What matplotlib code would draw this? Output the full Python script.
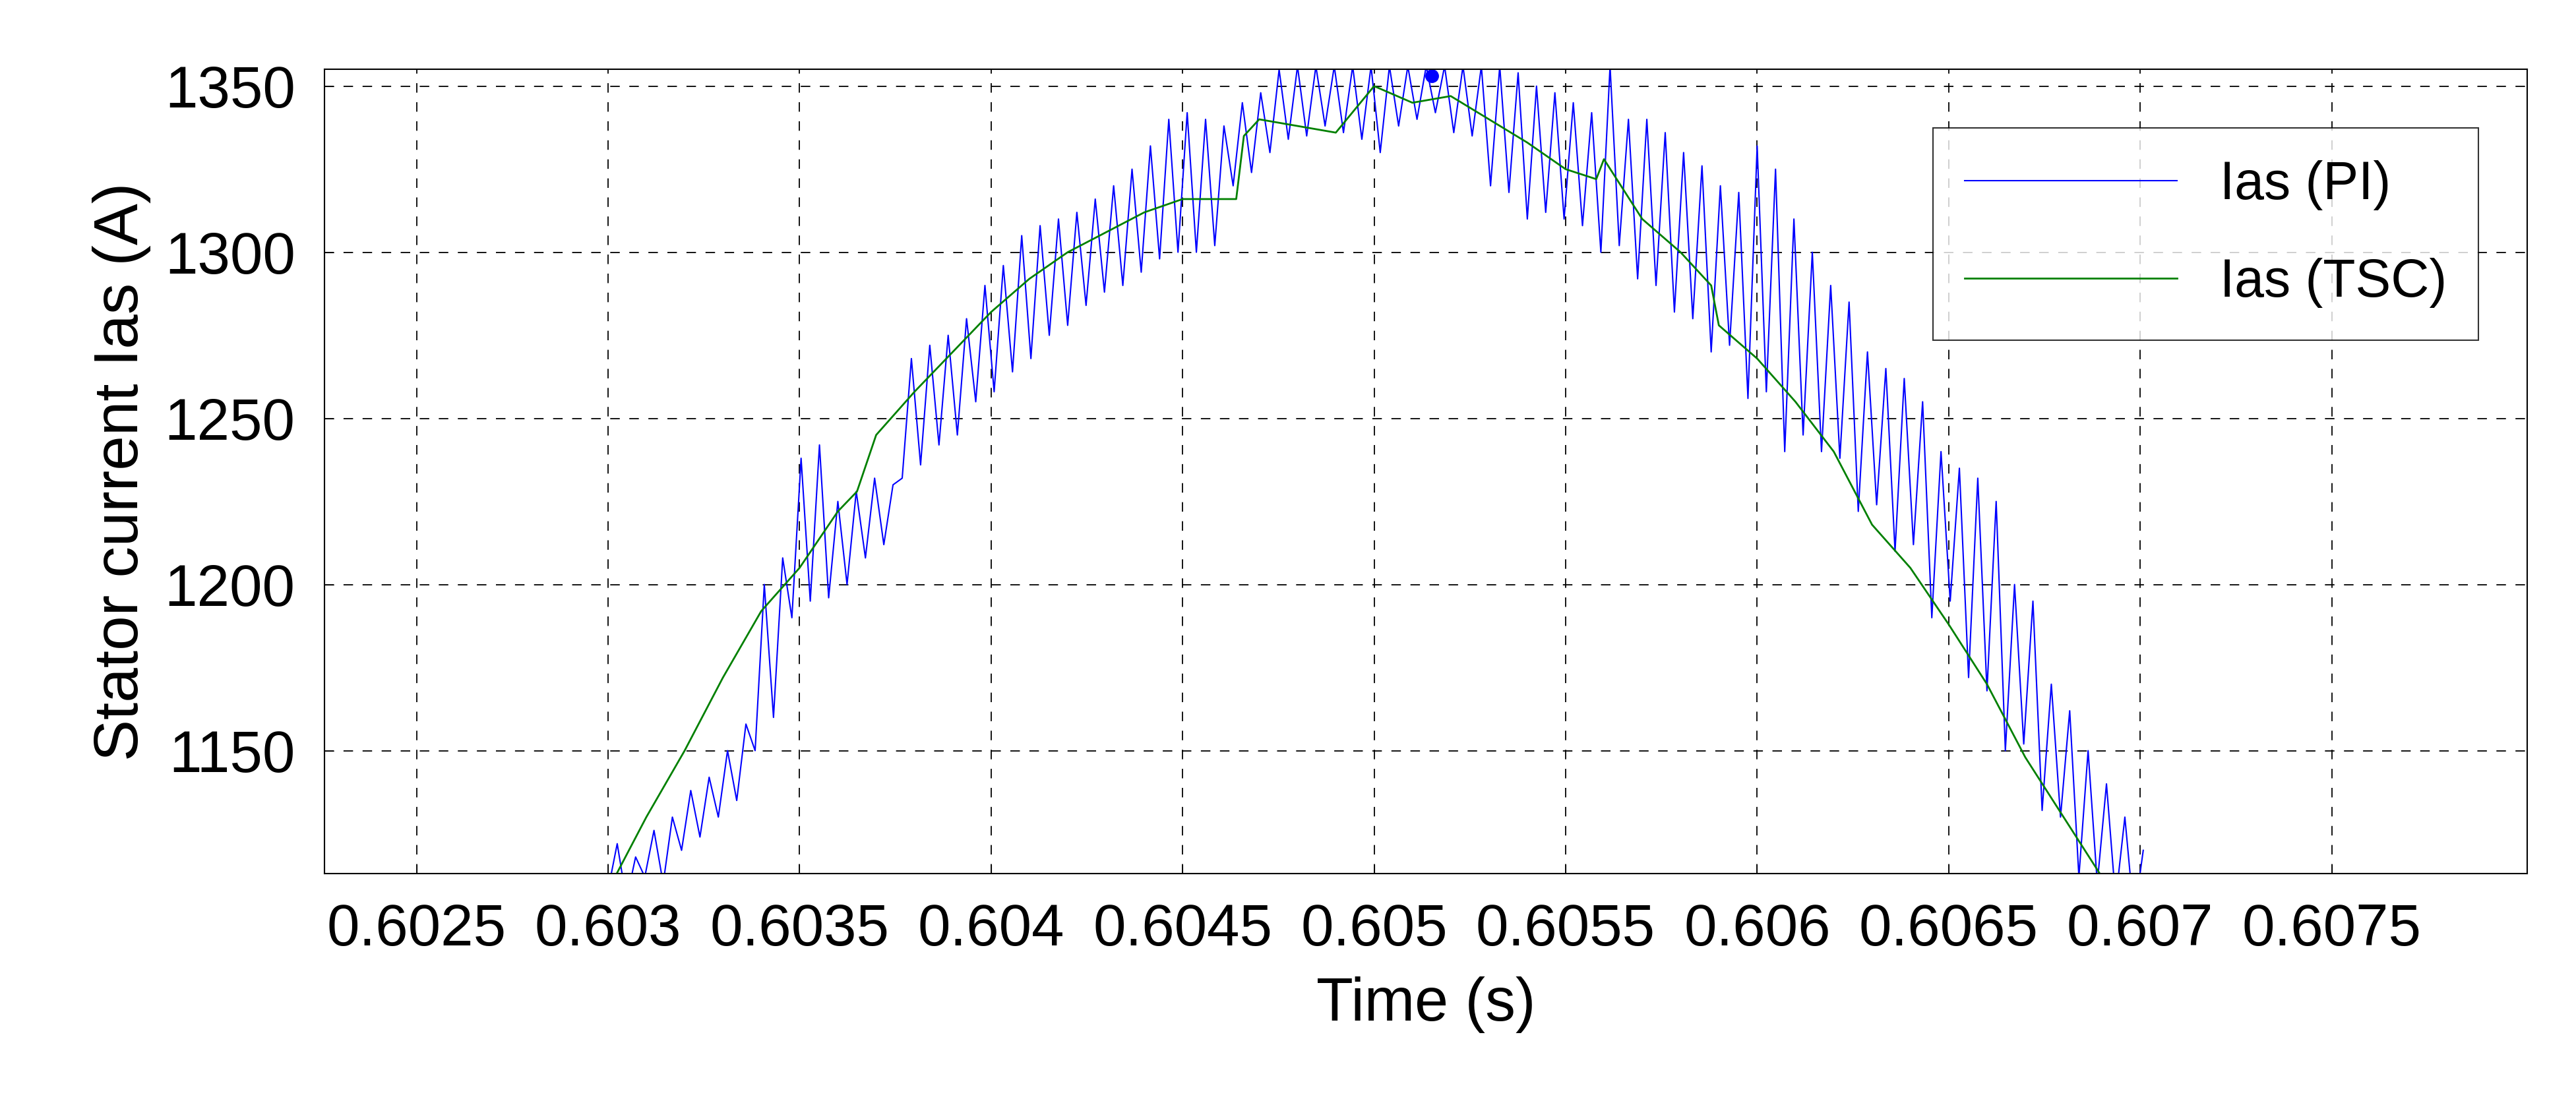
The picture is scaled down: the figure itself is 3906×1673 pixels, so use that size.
import numpy as np
import matplotlib
matplotlib.use("Agg")
import matplotlib.pyplot as plt

plt.rcParams['font.family'] = ['Liberation Sans', 'DejaVu Sans']

# PI current: sampled every 24 us from 0.60300 s (low/high alternating ripple)
pi_t0 = 0.60300
pi_dt = 0.000024
pi_vals = [
 1108,1122,1105,1118,  1112,1126,1110,1130,  1120,1138,1124,1142,  1130,1150,1135,1158,
 1150,1200,1160,1208,  1190,1238,1195,1242,  1196,1225,1200,1228,  1208,1232,1212,1230,
 1232,1268,1236,1272,  1242,1275,1245,1280,  1255,1290,1258,1296,  1264,1305,1268,1308,
 1275,1310,1278,1312,  1284,1316,1288,1320,  1290,1325,1294,1332,  1298,1340,1300,1342,
 1300,1340,1302,1338,  1320,1345,1324,1348,  1330,1355,1334,1356,  1335,1356,1338,1356,
 1336,1356,1334,1356,  1330,1356,1338,1356,  1340,1356,1342,1356,  1336,1356,1335,1356,
 1320,1356,1318,1354,  1310,1350,1312,1348,  1310,1345,1308,1342,  1300,1356,1302,1340,
 1292,1340,1290,1336,  1282,1330,1280,1326,  1270,1320,1272,1318,  1256,1332,1258,1325,
 1240,1310,1245,1300,  1240,1290,1238,1285,  1222,1270,1224,1265,  1210,1262,1212,1255,
 1190,1240,1195,1235,  1172,1232,1168,1225,  1150,1200,1152,1195,  1132,1170,1130,1162,
 1112,1150,1110,1140,  1105,1130,1100,1120,
]
pi_time = pi_t0 + pi_dt * np.arange(len(pi_vals))

# TSC current
tsc_time = [0.60300,0.60310,0.60320,0.60330,0.60340,0.60350,0.60360,0.60365,0.60370,0.60380,
            0.60390,0.60400,0.60410,0.60420,0.60430,0.60440,0.60450,0.60464,0.60466,0.60470,
            0.60480,0.60490,0.60500,0.60510,0.60520,0.60530,0.60540,0.60550,0.60558,0.60560,
            0.60570,0.60580,0.60588,0.60590,0.60600,0.60610,0.60620,0.60630,0.60640,0.60650,
            0.60660,0.60670,0.60680,0.60690,0.60700]
tsc_vals = [1108,1130,1150,1172,1192,1205,1222,1228,1245,1258,
            1270,1282,1292,1300,1306,1312,1316,1316,1335,1340,
            1338,1336,1350,1345,1347,1340,1333,1325,1322,1328,
            1310,1300,1290,1278,1268,1255,1240,1218,1205,1188,
            1170,1148,1130,1112,1100]

marker_t = [0.60515]
marker_v = [1353]

xticks = [0.6025,0.603,0.6035,0.604,0.6045,0.605,0.6055,0.606,0.6065,0.607,0.6075]
xlabels = ['0.6025','0.603','0.6035','0.604','0.6045','0.605','0.6055','0.606','0.6065','0.607','0.6075']
yticks = [1150,1200,1250,1300,1350]

fig = plt.figure(figsize=(39.06,16.73), dpi=100)
ax = fig.add_axes([0.126,0.208,0.855,0.729])
ax.plot(pi_time, pi_vals, color='blue', lw=1.5, label='Ias (PI)')
ax.plot(tsc_time, tsc_vals, color='green', lw=2.0, label='Ias (TSC)')
ax.plot(marker_t, marker_v, 'o', color='blue', ms=14)
ax.set_xlim(0.60226,0.60801)
ax.set_ylim(1113,1355)
ax.set_xticks(xticks)
ax.set_xticklabels(xlabels)
ax.set_yticks(yticks)
ax.grid(True, color='black', linestyle=(0,(8,8)), lw=1.3)
ax.tick_params(labelsize=64, length=10, direction='in', pad=32)
ax.set_xlabel('Time (s)', fontsize=66, labelpad=20)
ax.set_ylabel('Stator current Ias (A)', fontsize=68, labelpad=15)
for s in ax.spines.values():
    s.set_linewidth(1.5)
leg = ax.legend(loc='upper right', bbox_to_anchor=(0.99,0.96), fontsize=58, fancybox=False,
                edgecolor='black', handlelength=4, borderpad=0.6, labelspacing=0.9)
leg.get_frame().set_linewidth(1.5)
fig.savefig('out.png', dpi=100, facecolor='white')
